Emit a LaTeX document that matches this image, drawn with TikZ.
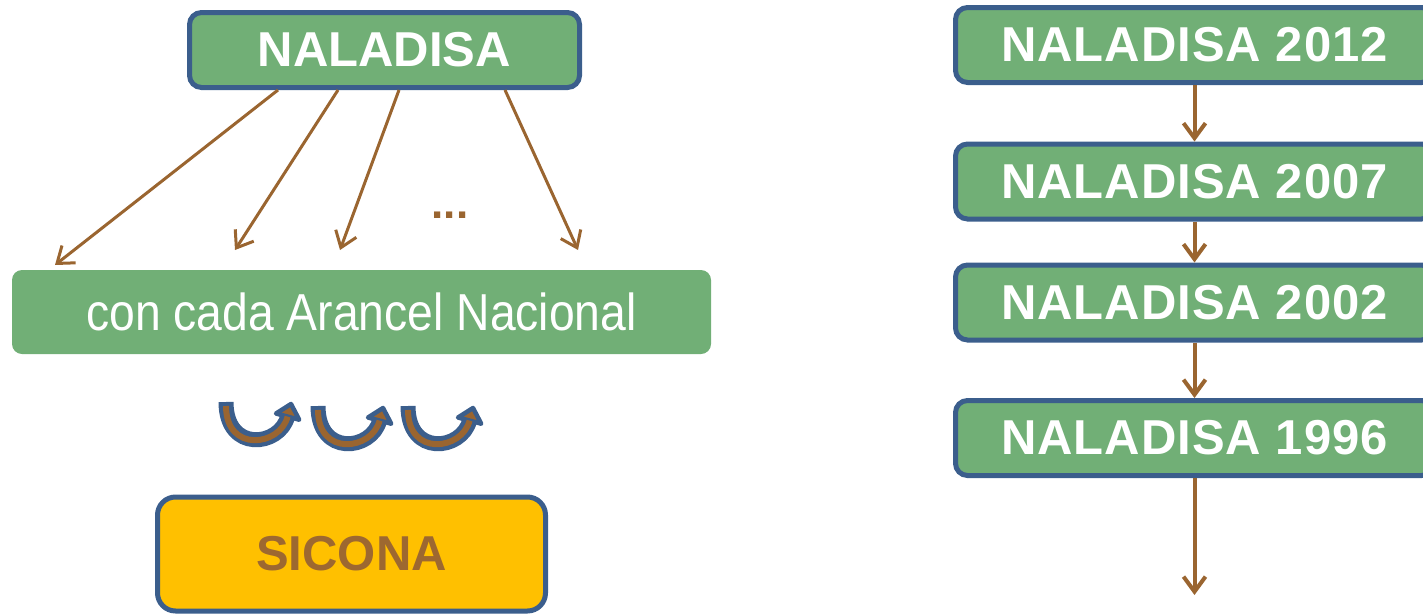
\documentclass[tikz,border=0pt]{standalone}
\usepackage{fontspec}
\setmainfont{Liberation Sans}
\newfontfamily\narrowsans[FakeStretch=0.89]{Liberation Sans}
\usetikzlibrary{arrows.meta}
\definecolor{boxgreen}{RGB}{113,175,118}
\definecolor{boxblue}{RGB}{59,94,140}
\definecolor{arrbrown}{RGB}{154,101,48}
\definecolor{boxorange}{RGB}{255,192,0}
\definecolor{sicbrown}{RGB}{157,104,48}
\newcommand\curvedarrowshape[2]{%
\begin{scope}[shift={(#1,#2)}]
 \draw[draw=boxblue, line width=15pt] (226,402) .. controls (226,453) and (279.8,446.6) .. (287.6,416.6);
 \filldraw[fill=arrbrown, draw=boxblue, line width=4.5pt, line join=round] (291,404) -- (299.2,419.7) -- (276,413.5) -- cycle;
 \draw[draw=arrbrown, line width=6pt, shorten <=4pt] (226,402) .. controls (226,453) and (279.8,446.6) .. (287.6,416.6);
\end{scope}}
\begin{document}
\begin{tikzpicture}[x=1pt,y=-1pt,
  greenbox/.style={draw=boxblue, line width=5pt, fill=boxgreen, rounded corners=12pt,
    text=white, font=\fontsize{49}{58}\selectfont\bfseries, inner sep=0pt, minimum height=75pt},
  spaced/.style={font=\fontsize{49}{58}\selectfont\bfseries\addfontfeature{LetterSpace=2}},
  brownarrow/.style={draw=arrbrown, line width=3pt, -{Straight Barb[length=15pt,width=22pt]}},
  rightarrow/.style={draw=arrbrown, line width=4pt, -{Straight Barb[length=15pt,width=22pt]}}]
\useasboundingbox (0,0) rectangle (1423,613);
\clip (0,0) rectangle (1423,613);
% left column
\node[greenbox, minimum width=390pt] (nal) at (384.5,50) {NALADISA};
\node[fill=boxgreen, rounded corners=10pt, minimum width=699pt, minimum height=84pt, inner sep=0pt,
  text=white, font=\narrowsans\fontsize{52}{62}\selectfont] (cada) at (361.5,312) {con cada Arancel Nacional};
\coordinate (t1) at (55,265);
\coordinate (t2) at (235,250);
\coordinate (t3) at (340,250);
\coordinate (t4) at (578,250);
\draw[brownarrow] ([xshift=-106.5pt]nal.south) -- (t1);
\draw[brownarrow] ([xshift=-46.5pt]nal.south) -- (t2);
\draw[brownarrow] ([xshift=14.5pt]nal.south) -- (t3);
\draw[brownarrow] ([xshift=120.5pt]nal.south) -- (t4);
\node[text=arrbrown, font=\fontsize{44}{52}\selectfont\bfseries, inner sep=0pt] (dots) at (450,215) {...};
\curvedarrowshape{0}{0}
\curvedarrowshape{92}{4}
\curvedarrowshape{182}{4}
\node[draw=boxblue, line width=5pt, fill=boxorange, rounded corners=18pt, minimum width=388pt,
  minimum height=114pt, inner sep=0pt, text=sicbrown, font=\fontsize{49}{58}\selectfont\bfseries] (sic) at (351.5,554) {SICONA};
% right column
\node[greenbox, spaced, minimum width=478pt] (n12) at (1194.5,45) {NALADISA 2012};
\node[greenbox, spaced, minimum width=478pt] (n07) at (1194.5,181.5) {NALADISA 2007};
\node[greenbox, spaced, minimum width=478pt] (n02) at (1194.5,302.5) {NALADISA 2002};
\node[greenbox, spaced, minimum width=478pt] (n96) at (1194.5,438) {NALADISA 1996};
\coordinate (end) at (1194.5,595);
\draw[rightarrow] (n12.south) -- (n07.north);
\draw[rightarrow] (n07.south) -- (n02.north);
\draw[rightarrow] (n02.south) -- (n96.north);
\draw[rightarrow] (n96.south) -- (end);
\end{tikzpicture}
\end{document}
